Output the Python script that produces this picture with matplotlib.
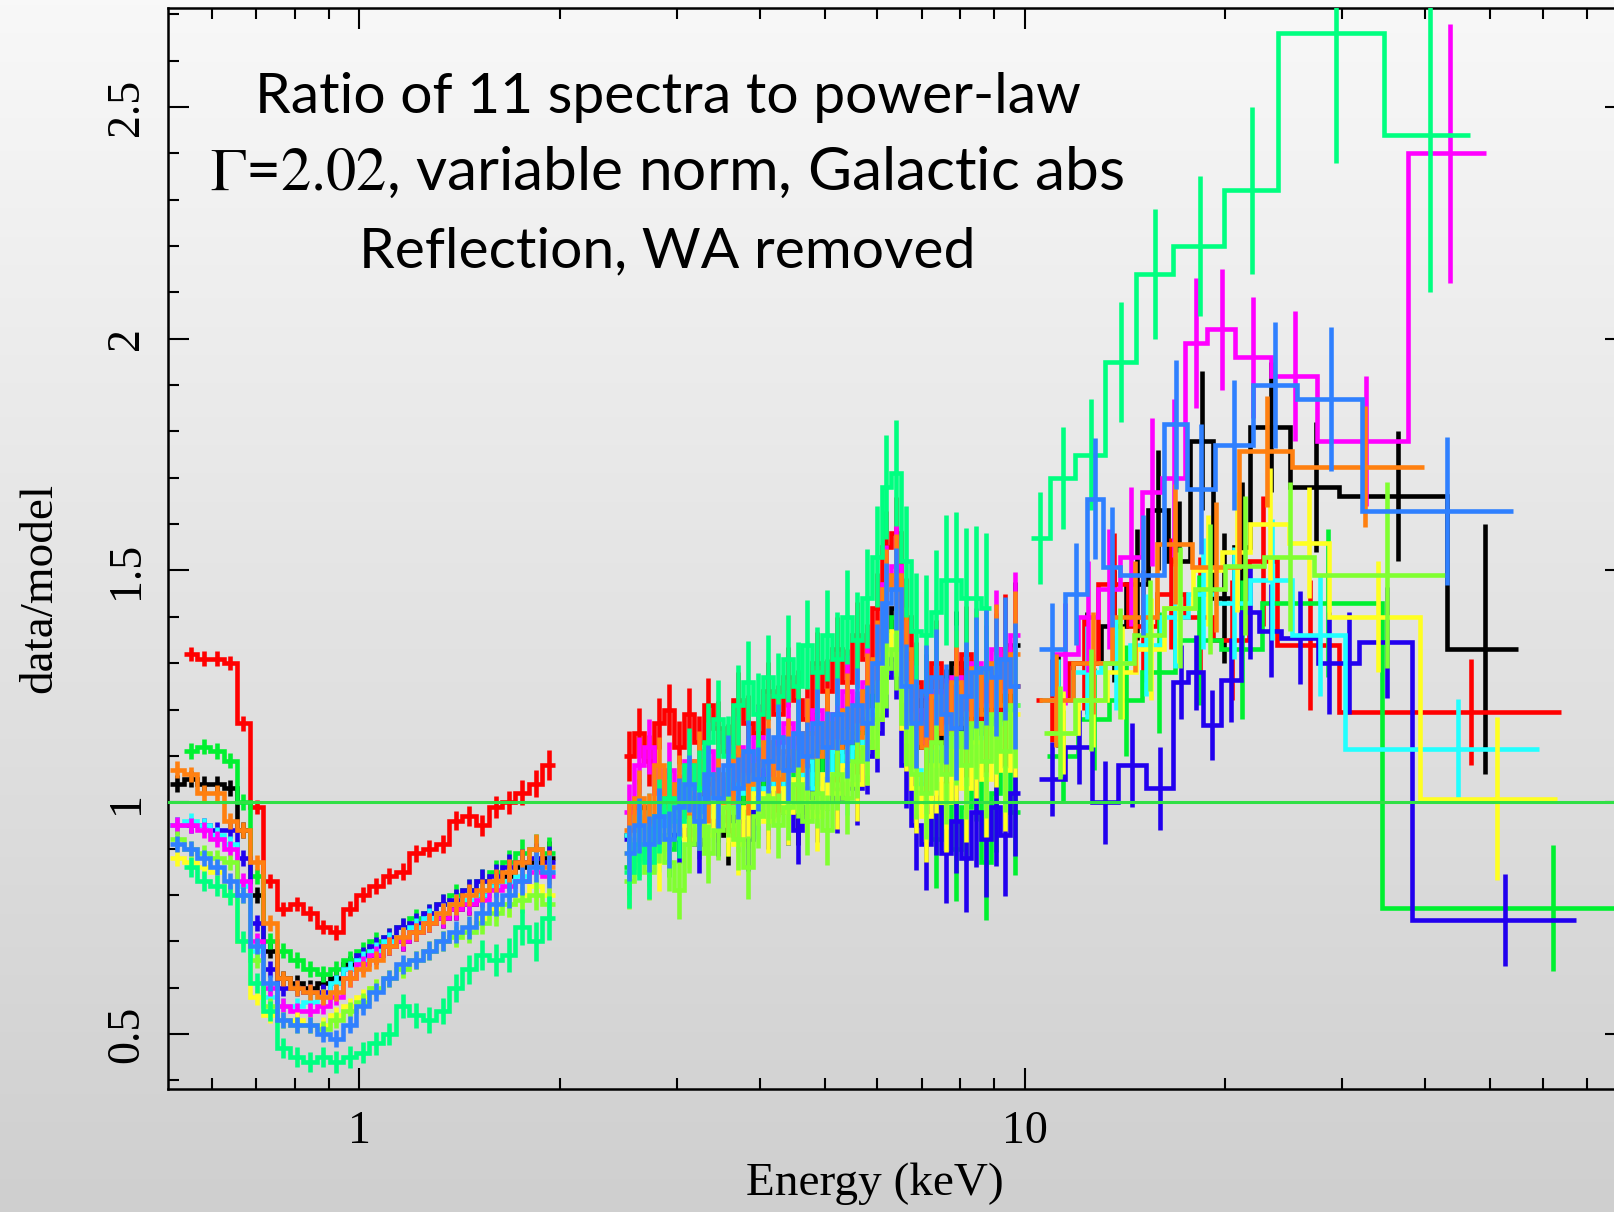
import numpy as np
import matplotlib
matplotlib.use("Agg")
import matplotlib.pyplot as plt
from matplotlib.colors import LinearSegmentedColormap
from matplotlib.ticker import FixedLocator, FixedFormatter, NullFormatter

# ---------------- data ----------------
soft_edges = [0.520, 0.545, 0.570, 0.597, 0.625, 0.654, 0.685, 0.717, 0.751, 0.786,
              0.823, 0.862, 0.902, 0.945, 0.989, 1.035, 1.084, 1.135, 1.188, 1.244,
              1.302, 1.364, 1.428, 1.495, 1.565, 1.639, 1.716, 1.797, 1.881, 1.970]
soft_err = [0.018, 0.017, 0.017, 0.017, 0.017, 0.017, 0.017, 0.017, 0.017, 0.017,
            0.017, 0.017, 0.018, 0.018, 0.018, 0.019, 0.019, 0.020, 0.020, 0.021,
            0.022, 0.023, 0.024, 0.025, 0.026, 0.028, 0.030, 0.032, 0.036]
hard_edges = [2.50, 2.59, 2.68, 2.77, 2.87, 2.97, 3.07, 3.18, 3.29, 3.40,
              3.52, 3.64, 3.77, 3.90, 4.04, 4.18, 4.33, 4.48, 4.63, 4.79,
              4.96, 5.13, 5.31, 5.50, 5.69, 5.89, 6.09, 6.30, 6.52, 6.75,
              6.99, 7.23, 7.48, 7.74, 8.01, 8.29, 8.58, 8.88, 9.19, 9.51, 9.84]
hard_err = [0.060, 0.060, 0.060, 0.061, 0.061, 0.062, 0.062, 0.063, 0.064, 0.065,
            0.066, 0.067, 0.068, 0.069, 0.070, 0.071, 0.072, 0.073, 0.074, 0.075,
            0.076, 0.077, 0.078, 0.080, 0.082, 0.084, 0.086, 0.088, 0.092, 0.096,
            0.100, 0.104, 0.108, 0.112, 0.116, 0.120, 0.124, 0.128, 0.132, 0.136]

nan = float("nan")

black_soft = [1.04, 1.05, 1.04, 1.04, 1.03, 0.94, 0.80, 0.68, 0.62, 0.61, 0.60, 0.61, 0.62, 0.65, 0.66,
              0.67, 0.69, 0.70, 0.72, 0.74, 0.75, 0.77, 0.78, 0.80, 0.82, 0.84, 0.86, 0.87, 0.88]
black_hard = [0.93, 0.99, 0.94, 0.97, 1.01, 0.95, 1.00, 0.96, 1.03, 0.98, 0.93, 1.04, 0.99, 1.06, 1.00,
              1.07, 1.03, 0.98, 1.09, 1.04, 1.12, 1.05, 1.13, 1.09, 1.18, 1.24, 1.37, 1.42, 1.27, 1.12,
              1.22, 1.08, 1.18, 1.30, 1.12, 1.21, 1.15, 1.28, 1.18, 1.34]
black_pin_edges = [10.6, 11.8, 13.0, 14.2, 15.3, 16.4, 17.7, 19.2, 20.6, 21.8, 25.0, 29.7, 43.1, 55.1]
black_pin = [1.22, 1.30, 1.38, 1.47, 1.63, 1.52, 1.78, 1.44, 1.55, 1.81, 1.68, 1.66, 1.33]
black_pin_err = [0.10, 0.11, 0.12, 0.12, 0.13, 0.13, 0.15, 0.14, 0.14, 0.14, 0.14, 0.14, 0.27]

red_soft = [nan, 1.32, 1.31, 1.31, 1.30, 1.17, 0.99, 0.83, 0.77, 0.78, 0.76, 0.73, 0.72, 0.77, 0.80,
            0.82, 0.84, 0.85, 0.89, 0.90, 0.91, 0.96, 0.97, 0.95, 0.99, 1.00, 1.02, 1.04, 1.08]
red_hard = [1.10, 1.15, 1.09, 1.17, 1.20, 1.12, 1.19, 1.13, 1.21, 1.16, 1.11, 1.22, 1.17, 1.15, 1.24,
            1.19, 1.27, 1.22, 1.18, 1.30, 1.24, 1.33, 1.26, 1.36, 1.31, 1.42, 1.55, 1.58, 1.40, 1.26,
            1.18, 1.30, 1.15, 1.24, 1.32, 1.17, 1.27, 1.20, 1.33, 1.25]
red_pin_edges = [10.4, 11.6, 12.9, 14.3, 15.8, 17.4, 19.2, 21.7, 23.9, 29.7, 64.0]
red_pin = [1.22, 1.30, 1.47, 1.38, 1.45, 1.40, 1.35, 1.52, 1.34, 1.195]
red_pin_err = [0.09, 0.10, 0.11, 0.12, 0.12, 0.13, 0.13, 0.14, 0.14, 0.115]

green_soft = [nan, 1.11, 1.12, 1.11, 1.09, 1.00, 0.84, 0.70, 0.68, 0.66, 0.64, 0.63, 0.64, 0.66, 0.68,
              0.70, 0.71, 0.73, 0.75, 0.76, 0.78, 0.80, 0.81, 0.83, 0.85, 0.87, 0.89, 0.90, 0.89]
green_hard = [0.86, 0.93, 0.88, 0.97, 0.90, 0.95, 1.01, 0.94, 0.98, 1.04, 0.95, 1.02, 0.97, 1.07, 1.00,
              1.05, 0.98, 1.09, 1.03, 1.06, 1.12, 1.04, 1.10, 1.15, 1.13, 1.25, 1.36, 1.40, 1.20, 1.04,
              1.00, 0.92, 1.05, 0.90, 0.99, 1.08, 0.87, 1.02, 1.12, 0.98]
green_pin_edges = [10.8, 12.0, 13.4, 15.0, 16.8, 19.7, 22.7, 34.4, 90.0]
green_pin = [1.10, 1.18, 1.22, 1.28, 1.35, 1.33, 1.43, 0.772]
green_pin_err = [0.10, 0.11, 0.12, 0.13, 0.14, 0.15, 0.16, 0.136]

blue_soft = [0.95, 0.95, 0.95, 0.94, 0.94, 0.88, 0.74, 0.64, 0.60, 0.60, 0.59, 0.59, 0.61, 0.64, 0.67,
             0.69, 0.71, 0.73, 0.74, 0.76, 0.78, 0.79, 0.81, 0.83, 0.84, 0.86, 0.87, 0.88, 0.87]
blue_hard = [0.92, 0.97, 0.90, 0.95, 0.99, 0.93, 0.97, 0.91, 1.00, 0.95, 1.02, 0.96, 0.92, 1.01, 0.97,
             1.04, 0.98, 0.94, 1.03, 0.99, 1.06, 1.01, 1.08, 1.03, 1.10, 1.15, 1.27, 1.31, 1.08, 0.95,
             0.91, 0.99, 0.89, 0.96, 0.88, 0.98, 0.92, 0.99, 0.93, 1.02]
blue_pin_edges = [10.5, 11.5, 12.6, 13.8, 15.2, 16.7, 17.6, 18.5, 19.7, 21.1, 22.5, 24.3, 27.6, 29.7,
                  31.8, 38.2, 67.3]
blue_pin = [1.05, 1.12, 1.00, 1.08, 1.03, 1.26, 1.28, 1.167, 1.264, 1.41, 1.37, 1.355, 1.30, 1.30,
            1.345, 0.746]
blue_pin_err = [0.08, 0.08, 0.09, 0.09, 0.09, 0.08, 0.08, 0.075, 0.09, 0.10, 0.10, 0.10, 0.11, 0.11,
                0.12, 0.10]

cyan_soft = [0.95, 0.96, 0.95, 0.93, 0.91, 0.82, 0.68, 0.58, 0.56, 0.56, 0.57, 0.58, 0.61, 0.64, 0.66,
             0.68, 0.70, 0.71, 0.73, 0.75, 0.76, 0.78, 0.79, 0.80, 0.82, 0.83, 0.84, 0.86, 0.85]
cyan_hard = [0.93, 0.98, 0.96, 0.91, 0.99, 1.02, 0.95, 1.01, 0.97, 1.04, 0.98, 1.02, 1.06, 0.99, 1.03,
             1.07, 1.00, 1.05, 1.09, 1.03, 1.06, 1.11, 1.05, 1.12, 1.14, 1.20, 1.32, 1.36, 1.22, 1.07,
             1.03, 1.12, 1.05, 1.15, 1.08, 1.17, 1.10, 1.19, 1.11, 1.21]
cyan_pin_edges = [10.6, 11.8, 13.0, 14.4, 16.0, 17.6, 19.4, 21.8, 25.2, 30.3, 59.3]
cyan_pin = [1.22, 1.28, 1.30, 1.34, 1.40, 1.45, 1.43, 1.48, 1.36, 1.115]
cyan_pin_err = [0.09, 0.10, 0.10, 0.11, 0.11, 0.12, 0.12, 0.13, 0.13, 0.107]

magenta_soft = [0.95, 0.95, 0.94, 0.92, 0.90, 0.83, 0.70, 0.60, 0.56, 0.55, 0.55, 0.56, 0.58, 0.62, 0.65,
                0.67, 0.69, 0.70, 0.72, 0.74, 0.75, 0.77, 0.78, 0.79, 0.81, 0.82, 0.83, 0.85, 0.84]
magenta_hard = [0.98, 1.08, 1.12, 1.02, 1.07, 1.00, 1.09, 1.04, 1.11, 1.05, 1.02, 1.12, 1.07, 1.14, 1.06,
                1.13, 1.17, 1.09, 1.15, 1.20, 1.12, 1.19, 1.24, 1.16, 1.26, 1.30, 1.47, 1.51, 1.30, 1.20,
                1.13, 1.24, 1.16, 1.27, 1.19, 1.30, 1.21, 1.33, 1.24, 1.36]
magenta_pin_edges = [11.0, 12.0, 12.9, 13.9, 15.0, 16.1, 17.4, 18.8, 20.7, 23.4, 27.5, 37.7, 49.3]
magenta_pin = [1.32, 1.40, 1.46, 1.53, 1.67, 1.70, 1.99, 2.02, 1.96, 1.92, 1.78, 2.40]
magenta_pin_err = [0.11, 0.12, 0.13, 0.15, 0.16, 0.17, 0.14, 0.13, 0.13, 0.14, 0.14, 0.28]

yellow_soft = [0.88, 0.87, 0.86, 0.85, 0.80, 0.70, 0.58, 0.54, 0.53, 0.53, 0.52, 0.52, 0.54, 0.56, 0.58,
               0.60, 0.62, 0.64, 0.66, 0.68, 0.70, 0.71, 0.73, 0.75, 0.77, 0.78, 0.80, 0.82, 0.80]
yellow_hard = [0.89, 0.95, 0.91, 0.87, 0.94, 0.98, 0.92, 0.97, 0.93, 1.00, 0.95, 0.91, 0.99, 1.02, 0.96,
               1.03, 0.98, 1.05, 1.00, 0.97, 1.06, 1.02, 1.08, 1.04, 1.12, 1.18, 1.32, 1.37, 1.16, 1.03,
               0.97, 1.08, 1.00, 1.11, 1.03, 1.13, 1.05, 1.16, 1.07, 1.19]
yellow_pin_edges = [10.8, 12.0, 13.3, 14.7, 16.2, 17.9, 19.8, 21.8, 24.9, 28.6, 39.3, 63.0]
yellow_pin = [1.15, 1.22, 1.28, 1.33, 1.42, 1.50, 1.54, 1.60, 1.56, 1.40, 1.008]
yellow_pin_err = [0.09, 0.10, 0.10, 0.11, 0.12, 0.12, 0.13, 0.12, 0.12, 0.12, 0.175]

orange_soft = [1.07, 1.06, 1.02, 1.02, 0.96, 0.94, 0.87, 0.74, 0.62, 0.60, 0.59, 0.58, 0.59, 0.62, 0.64,
               0.66, 0.69, 0.71, 0.72, 0.74, 0.76, 0.78, 0.80, 0.81, 0.83, 0.85, 0.87, 0.90, 0.86]
orange_hard = [0.94, 1.01, 0.96, 1.08, 0.99, 1.04, 0.97, 1.09, 1.02, 1.06, 1.00, 1.11, 1.04, 1.08, 1.13,
               1.05, 1.11, 1.07, 1.15, 1.10, 1.17, 1.12, 1.20, 1.14, 1.24, 1.31, 1.46, 1.49, 1.33, 1.17,
               1.12, 1.23, 1.15, 1.26, 1.17, 1.29, 1.19, 1.30, 1.21, 1.32]
orange_pin_edges = [10.5, 11.8, 13.5, 15.8, 17.8, 21.0, 25.2, 39.8]
orange_pin = [1.22, 1.30, 1.40, 1.557, 1.507, 1.757, 1.724]
orange_pin_err = [0.10, 0.11, 0.12, 0.13, 0.14, 0.12, 0.13]

lime_soft = [0.92, 0.90, 0.89, 0.88, 0.87, 0.80, 0.66, 0.56, 0.53, 0.52, 0.52, 0.51, 0.53, 0.55, 0.57,
             0.60, 0.62, 0.64, 0.66, 0.68, 0.70, 0.71, 0.72, 0.74, 0.76, 0.78, 0.79, 0.80, 0.78]
lime_hard = [0.83, 0.90, 0.85, 0.93, 0.87, 0.81, 0.91, 0.96, 0.89, 0.94, 0.99, 0.92, 0.86, 0.97, 1.01,
             0.95, 0.99, 1.04, 0.96, 1.02, 0.94, 1.06, 1.01, 1.09, 1.12, 1.18, 1.29, 1.33, 1.17, 1.06,
             1.02, 1.13, 1.06, 1.15, 1.08, 1.17, 1.09, 1.19, 1.11, 1.21]
lime_pin_edges = [10.7, 11.9, 13.2, 14.6, 16.2, 18.0, 20.0, 22.9, 27.2, 42.8]
lime_pin = [1.15, 1.22, 1.30, 1.36, 1.42, 1.46, 1.51, 1.53, 1.49]
lime_pin_err = [0.10, 0.11, 0.12, 0.12, 0.13, 0.14, 0.15, 0.16, 0.20]

spring_soft = [nan, 0.86, 0.83, 0.82, 0.80, 0.70, 0.61, 0.55, 0.47, 0.45, 0.44, 0.45, 0.44, 0.45, 0.46,
               0.48, 0.50, 0.56, 0.54, 0.53, 0.55, 0.60, 0.64, 0.67, 0.66, 0.67, 0.73, 0.70, 0.75]
spring_hard = [0.85, 0.91, 0.87, 0.97, 1.01, 0.96, 1.08, 1.03, 1.13, 1.18, 1.10, 1.21, 1.26, 1.19, 1.27,
               1.23, 1.31, 1.25, 1.34, 1.28, 1.36, 1.31, 1.40, 1.35, 1.44, 1.53, 1.68, 1.71, 1.52, 1.37,
               1.36, 1.41, 1.48, 1.48, 1.44, 1.44, 1.42]
spring_pin_edges = [10.2, 10.9, 11.9, 13.2, 14.7, 16.7, 19.9, 24.0, 34.7, 46.6]
spring_pin = [1.57, 1.70, 1.75, 1.95, 2.14, 2.20, 2.32, 2.66, 2.44]
spring_pin_err = [0.10, 0.11, 0.12, 0.13, 0.14, 0.15, 0.18, 0.28, 0.34]

dodger_soft = [0.91, 0.90, 0.88, 0.86, 0.83, 0.80, 0.69, 0.61, 0.53, 0.52, 0.52, 0.50, 0.49, 0.52, 0.56,
               0.59, 0.62, 0.65, 0.66, 0.68, 0.70, 0.72, 0.73, 0.76, 0.78, 0.80, 0.83, 0.86, 0.85]
dodger_hard = [0.89, 0.95, 0.91, 0.97, 0.92, 0.99, 1.04, 0.96, 1.06, 1.01, 1.08, 1.03, 1.11, 1.05, 1.09,
               1.14, 1.07, 1.15, 1.10, 1.17, 1.12, 1.19, 1.13, 1.21, 1.17, 1.30, 1.43, 1.46, 1.25, 1.17,
               1.24, 1.27, 1.19, 1.16, 1.23, 1.28, 1.29, 1.27, 1.31, 1.25]
dodger_pin_edges = [10.5, 11.5, 12.4, 13.1, 13.9, 16.2, 17.5, 19.3, 22.0, 25.6, 32.1, 54.2]
dodger_pin = [1.33, 1.45, 1.655, 1.507, 1.49, 1.815, 1.676, 1.77, 1.90, 1.87, 1.628]
dodger_pin_err = [0.10, 0.11, 0.13, 0.13, 0.13, 0.14, 0.14, 0.14, 0.135, 0.155, 0.16]

series_colors = ["#000000", "#ff0000", "#00f030", "#2200ee", "#22ffff", "#ff00ff",
                 "#ffff22", "#ff8010", "#80ff30", "#00ff80", "#2f80ff"]
series_err_scale = [1.0, 0.9, 1.0, 1.0, 1.0, 1.0, 1.0, 1.0, 1.0, 1.3, 1.0]

x_major = [1, 10]
x_major_labels = ["1", "10"]
x_minor = [0.6, 0.7, 0.8, 0.9, 2, 3, 4, 5, 6, 7, 8, 9, 20, 30, 40, 50, 60, 70]
y_major = [0.5, 1.0, 1.5, 2.0, 2.5]
y_major_labels = ["0.5", "1", "1.5", "2", "2.5"]
y_minor = [0.4, 0.6, 0.7, 0.8, 0.9, 1.1, 1.2, 1.3, 1.4, 1.6, 1.7, 1.8, 1.9,
           2.1, 2.2, 2.3, 2.4, 2.6, 2.7]

# ---------------- figure ----------------
plt.rcParams["mathtext.fontset"] = "stix"
W, H = 1615, 1212
fig = plt.figure(figsize=(W / 100, H / 100), dpi=100)

bg = fig.add_axes([0, 0, 1, 1], zorder=-10)
grad = np.linspace(0, 1, 256).reshape(-1, 1)
bg.imshow(grad, aspect="auto", extent=[0, 1, 0, 1], origin="upper",
          cmap=LinearSegmentedColormap.from_list("bg", ["#f8f8f8", "#cfcfcf"]))
bg.axis("off")

ax = fig.add_axes([0.10396, 0.10173, 0.90273, 0.8915])
ax.set_facecolor("none")
ax.set_xscale("log")
ax.set_xlim(0.5154, 80)
ax.set_ylim(0.382, 2.713)

soft = [black_soft, red_soft, green_soft, blue_soft, cyan_soft, magenta_soft,
        yellow_soft, orange_soft, lime_soft, spring_soft, dodger_soft]
hard = [black_hard, red_hard, green_hard, blue_hard, cyan_hard, magenta_hard,
        yellow_hard, orange_hard, lime_hard, spring_hard, dodger_hard]
pin_e = [black_pin_edges, red_pin_edges, green_pin_edges, blue_pin_edges, cyan_pin_edges,
         magenta_pin_edges, yellow_pin_edges, orange_pin_edges, lime_pin_edges,
         spring_pin_edges, dodger_pin_edges]
pin_v = [black_pin, red_pin, green_pin, blue_pin, cyan_pin, magenta_pin, yellow_pin,
         orange_pin, lime_pin, spring_pin, dodger_pin]
pin_r = [black_pin_err, red_pin_err, green_pin_err, blue_pin_err, cyan_pin_err,
         magenta_pin_err, yellow_pin_err, orange_pin_err, lime_pin_err,
         spring_pin_err, dodger_pin_err]

LW = 3.3
for i, col in enumerate(series_colors):
    z = 3 + i
    sc = series_err_scale[i]
    bands = [(soft_edges, soft[i], [v * sc for v in soft_err]),
             (hard_edges, hard[i], [v * sc for v in hard_err]),
             (pin_e[i], pin_v[i], pin_r[i])]
    for edges, vals, errs in bands:
        v = np.array(vals, float)
        e = np.array(edges, float)[:len(v) + 1]
        r = np.array(errs, float)[:len(v)]
        ok = np.where(~np.isnan(v))[0]
        a, b = ok[0], ok[-1] + 1
        v, r, e = v[a:b], r[a:b], e[a:b + 1]
        ax.stairs(v, e, baseline=None, color=col, lw=LW, zorder=z)
        c = 0.5 * (e[:-1] + e[1:])
        ax.errorbar(c, v, yerr=r, fmt="none", ecolor=col, elinewidth=LW,
                    capsize=0, zorder=z)

ax.axhline(1.0, color="#30e045", lw=2.2, zorder=30)

# axes styling
for sp in ax.spines.values():
    sp.set_linewidth(1.8)
ax.xaxis.set_major_locator(FixedLocator(x_major))
ax.xaxis.set_major_formatter(FixedFormatter(x_major_labels))
ax.xaxis.set_minor_locator(FixedLocator(x_minor))
ax.xaxis.set_minor_formatter(NullFormatter())
ax.yaxis.set_major_locator(FixedLocator(y_major))
ax.yaxis.set_major_formatter(FixedFormatter(y_major_labels))
ax.yaxis.set_minor_locator(FixedLocator(y_minor))
ax.tick_params(which="both", direction="in", top=True, right=True, width=1.5)
ax.tick_params(which="major", length=15)
ax.tick_params(which="minor", length=8)
ax.tick_params(axis="x", which="major", pad=16, labelsize=33)
ax.tick_params(axis="y", which="major", pad=14, labelsize=33)
for lab in ax.get_xticklabels():
    lab.set_fontfamily("Liberation Serif")
for lab in ax.get_yticklabels():
    lab.set_fontfamily("Liberation Serif")
    lab.set_rotation(90)
    lab.set_va("center")

ax.set_xlabel("Energy (keV)", fontsize=34, family="Liberation Serif")
ax.set_ylabel("data/model", fontsize=34, family="Liberation Serif")
ax.xaxis.set_label_coords(0.4847, -0.068)
ax.yaxis.set_label_coords(-0.073, 0.463)

tx = 667.5 / W
fig.text(tx, 1 - 113 / H, "Ratio of 11 spectra to power-law", ha="center",
         va="baseline", fontsize=41, family="Lato")
fig.text(tx, 1 - 190 / H, r"$\Gamma$=$2.02$, variable norm, Galactic abs", ha="center",
         va="baseline", fontsize=43.5, family="Lato")
fig.text(tx, 1 - 267 / H, "Reflection, WA removed", ha="center",
         va="baseline", fontsize=41, family="Lato")

fig.savefig("out.png", dpi=100)
